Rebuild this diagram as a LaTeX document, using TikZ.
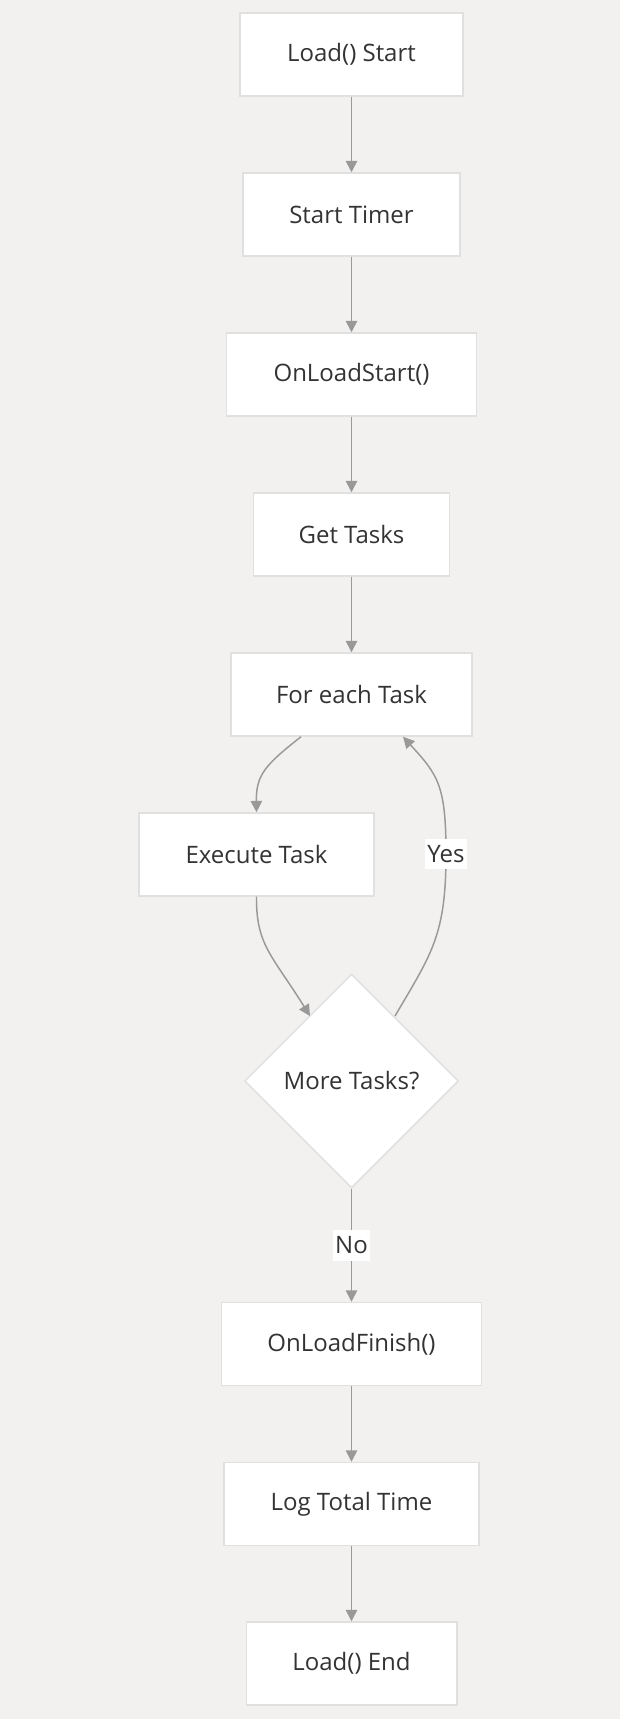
\documentclass[tikz,border=0pt]{standalone}
\usepackage{fontspec}
\setmainfont{Open Sans}
\usetikzlibrary{shapes.geometric,arrows.meta}
\definecolor{bgc}{RGB}{242,241,239}
\definecolor{bordc}{RGB}{224,224,224}
\definecolor{edgec}{RGB}{153,153,153}
\definecolor{txtc}{RGB}{51,51,51}
\tikzset{
  px/.style={x=0.75pt,y=-0.75pt},
  stepbox/.style={draw=bordc,line width=1.1pt,fill=white,rectangle,minimum height=62.25pt,inner sep=0pt,text=txtc,font=\fontsize{18}{21}\selectfont},
  decbox/.style={draw=bordc,line width=1.1pt,fill=white,diamond,aspect=1,minimum width=160.5pt,minimum height=160.5pt,inner sep=0pt,text=txtc,font=\fontsize{18}{21}\selectfont},
  conn/.style={draw=edgec,line width=1.1pt,-{Triangle[length=8.5pt,width=8.5pt]}},
  elabel/.style={fill=white,inner xsep=1.5pt,inner ysep=5pt,text=txtc,font=\fontsize{18}{21}\selectfont}
}
\begin{document}
\begin{tikzpicture}[px]
\fill[bgc] (0,0) rectangle (620,1719);
\useasboundingbox (0,0) rectangle (620,1719);
\node[stepbox,minimum width=167.25pt] (n1) at (351.5,54.5) {Load() Start};
\node[stepbox,minimum width=162.75pt] (n2) at (351.5,214.5) {Start Timer};
\node[stepbox,minimum width=187.5pt] (n3) at (351.5,374.5) {OnLoadStart()};
\node[stepbox,minimum width=147pt] (n4) at (351.5,534.5) {Get Tasks};
\node[stepbox,minimum width=180.75pt] (n5) at (351.5,694.5) {For each Task};
\node[stepbox,minimum width=176.25pt] (n6) at (256.5,854.5) {Execute Task};
\node[decbox] (n7) at (351.5,1081) {More Tasks?};
\node[stepbox,minimum width=195pt] (n8) at (351.5,1344) {OnLoadFinish()};
\node[stepbox,minimum width=191.25pt] (n9) at (351.5,1504) {Log Total Time};
\node[stepbox,minimum width=157.9pt] (n10) at (351.5,1663.5) {Load() End};
\draw[conn] (n1) -- (n2);
\draw[conn] (n2) -- (n3);
\draw[conn] (n3) -- (n4);
\draw[conn] (n4) -- (n5);
\draw[conn] (n5.south -| 301,0) .. controls (265,765) and (256,775) .. (n6.north);
\draw[conn] (n6.south) .. controls (256,945) and (272,955) .. (310,1016);
\draw[conn] (395,1016) .. controls (432,953) and (446,935) .. (446,854) coordinate (ymid) .. controls (446,785) and (438,775) .. (n5.south -| 403,0);
\node[elabel] (yes) at (ymid) {Yes};
\draw[conn] (n7.south) -- (n8.north) node[midway,elabel] (no) {No};
\draw[conn] (n8) -- (n9);
\draw[conn] (n9) -- (n10);
\end{tikzpicture}
\end{document}
